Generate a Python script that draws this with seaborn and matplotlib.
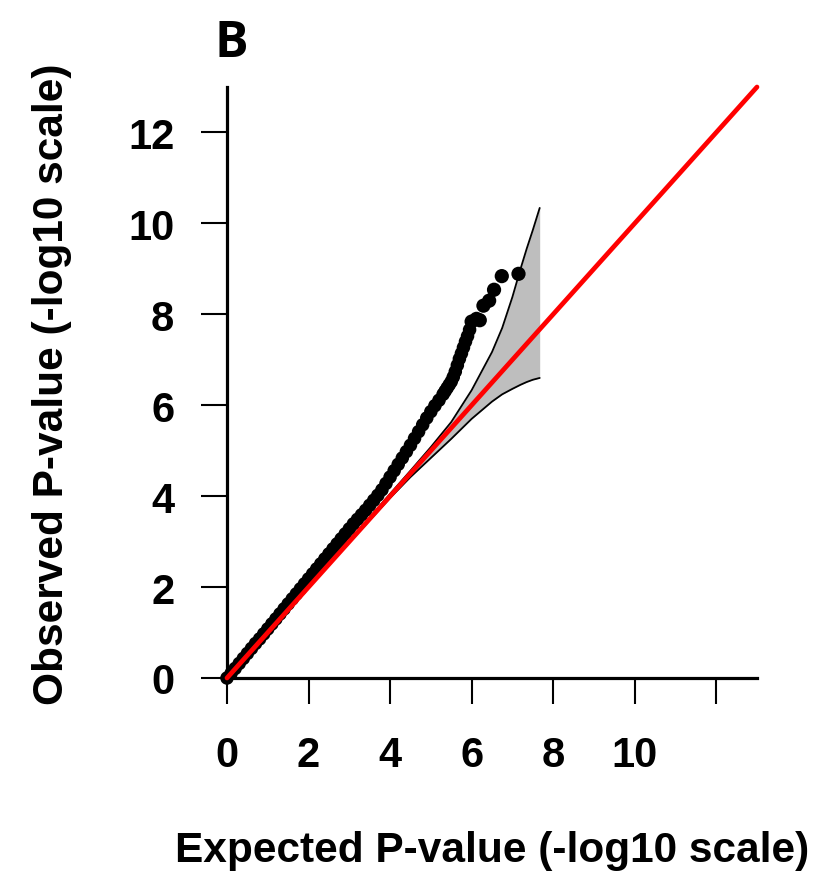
import matplotlib
matplotlib.use("Agg")
import matplotlib.pyplot as plt
import seaborn as sns

# ---- data -------------------------------------------------------------
# Bulk of the QQ points: expected vs observed -log10(P)
body_exp = [0.0, 0.1, 0.2, 0.3, 0.4, 0.5, 0.6, 0.7, 0.8, 0.9,
            1.0, 1.1, 1.2, 1.3, 1.4, 1.5, 1.6, 1.7, 1.8, 1.9,
            2.0, 2.1, 2.2, 2.3, 2.4, 2.5, 2.6, 2.7, 2.8, 2.9,
            3.0, 3.1, 3.2, 3.3, 3.4, 3.5, 3.6, 3.7, 3.8, 3.9,
            4.0, 4.1, 4.2, 4.3, 4.4, 4.5, 4.6, 4.7, 4.8, 4.9,
            5.0, 5.1, 5.2, 5.3, 5.35, 5.4, 5.45, 5.5, 5.55, 5.6,
            5.65, 5.7, 5.75, 5.8, 5.85, 5.9, 5.95]
body_obs = [0.00, 0.10, 0.21, 0.32, 0.43, 0.54, 0.65, 0.76, 0.86, 0.97,
            1.08, 1.19, 1.30, 1.41, 1.52, 1.63, 1.74, 1.85, 1.96, 2.07,
            2.18, 2.29, 2.40, 2.51, 2.62, 2.73, 2.84, 2.95, 3.06, 3.17,
            3.28, 3.39, 3.49, 3.59, 3.69, 3.80, 3.91, 4.02, 4.14, 4.28,
            4.42, 4.56, 4.70, 4.84, 4.98, 5.12, 5.27, 5.42, 5.57, 5.72,
            5.86, 5.99, 6.11, 6.24, 6.31, 6.38, 6.45, 6.52, 6.62, 6.74,
            6.88, 7.02, 7.14, 7.27, 7.40, 7.52, 7.66]

# Most significant hits
tail_exp = [6.00, 6.12, 6.20, 6.29, 6.43, 6.55, 6.74, 7.15]
tail_obs = [7.84, 7.90, 7.87, 8.19, 8.30, 8.54, 8.84, 8.89]

# 95% confidence band around the null
band_x = [0.0, 1.0, 2.0, 3.0, 4.0, 4.5, 5.0, 5.5, 6.0, 6.5, 6.75, 7.0,
          7.2, 7.35, 7.5, 7.67]
band_hi = [0.0, 1.0, 2.01, 3.02, 4.05, 4.56, 5.08, 5.63, 6.33, 7.17, 7.70,
           8.38, 9.00, 9.44, 9.85, 10.34]
band_lo = [0.0, 1.0, 1.99, 2.98, 3.96, 4.42, 4.84, 5.26, 5.70, 6.08, 6.24,
           6.36, 6.45, 6.51, 6.56, 6.60]

diag = [0, 13]

x_ticks = [0, 2, 4, 6, 8, 10, 12]
x_tick_labels = ["0", "2", "4", "6", "8", "10", ""]
y_ticks = [0, 2, 4, 6, 8, 10, 12]
y_tick_labels = ["0", "2", "4", "6", "8", "10", "12"]

# ---- figure -----------------------------------------------------------
sns.set_theme(style="ticks")
plt.rcParams["font.family"] = ["Liberation Sans", "DejaVu Sans"]
plt.rcParams["text.color"] = "black"

W, H = 820, 887
fig = plt.figure(figsize=(W / 100, H / 100), dpi=100)
ax = fig.add_axes([227 / W, 208 / H, 530 / W, 591 / H])

ax.fill_between(band_x, band_lo, band_hi, color="#bebebe", lw=0, zorder=1)
ax.plot(band_x, band_hi, color="black", lw=1.3, zorder=2)
ax.plot(band_x, band_lo, color="black", lw=1.3, zorder=2)

sns.scatterplot(x=body_exp, y=body_obs, s=95, color="black",
                edgecolor="none", linewidth=0, ax=ax, zorder=3, clip_on=False)
sns.scatterplot(x=tail_exp, y=tail_obs, s=105, color="black",
                edgecolor="none", linewidth=0, ax=ax, zorder=3, clip_on=False)

sns.lineplot(x=diag, y=diag, color="red", lw=3.4, ax=ax, zorder=4)
ax.lines[-1].set_clip_on(False)

ax.set_xlim(0, 13)
ax.set_ylim(0, 13)

for side in ("top", "right"):
    ax.spines[side].set_visible(False)
for side in ("left", "bottom"):
    ax.spines[side].set_linewidth(2.3)
    ax.spines[side].set_color("black")

ax.set_xticks(x_ticks)
ax.set_xticklabels(x_tick_labels)
ax.set_yticks(y_ticks)
ax.set_yticklabels(y_tick_labels)
ax.tick_params(axis="both", direction="out", length=19, width=1.5,
               colors="black", labelcolor="black", labelsize=30)
ax.tick_params(axis="x", pad=22, bottom=True)
ax.tick_params(axis="y", pad=19, left=True)
for lab in ax.get_xticklabels() + ax.get_yticklabels():
    lab.set_fontweight("bold")

ax.set_xlabel("")
ax.set_ylabel("")

fig.text(492 / W, 1 - 862 / H, "Expected P-value (-log10 scale)",
         ha="center", va="baseline", fontsize=30.5, fontweight="bold",
         color="black")
fig.text(52 / W, 1 - 384 / H, "Observed P-value (-log10 scale)",
         ha="center", va="center", rotation=90, fontsize=30.5,
         fontweight="bold", color="black")
fig.text(231 / W, 1 - 57 / H, "B", ha="center", va="baseline",
         fontsize=36, fontweight="bold", color="black",
         family=["Open Sans", "DejaVu Sans"])

fig.savefig("out.png", dpi=100, facecolor="white")
